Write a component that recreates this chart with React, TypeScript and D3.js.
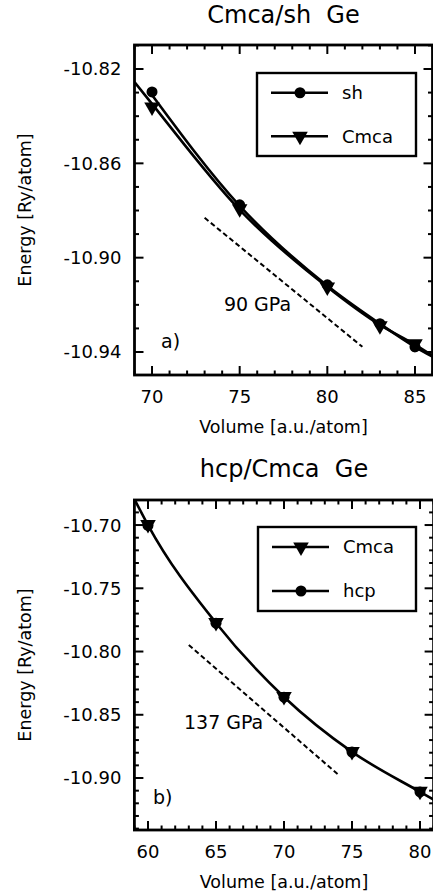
import React from "react";
import * as d3 from "d3";

// ---------- data ----------
// Panel a) Cmca/sh Ge
const shVolumesA = [70, 75, 80, 83, 85];
const shEnergiesA = [-10.8297, -10.8776, -10.9115, -10.928, -10.9378];
const cmcaVolumesA = [70, 75, 80, 83, 85];
const cmcaEnergiesA = [-10.8361, -10.8793, -10.9124, -10.9289, -10.9365];
const shFitVolumesA = [70, 75, 80, 83, 85, 86];
const shFitEnergiesA = [-10.831, -10.878, -10.9119, -10.928, -10.9378, -10.942];
const cmcaFitVolumesA = [69, 70, 75, 80, 83, 85, 86];
const cmcaFitEnergiesA = [-10.8255, -10.8348, -10.8797, -10.9124, -10.9285, -10.9369, -10.9416];
const pressureVolumesA = [73, 82];
const pressureEnergiesA = [-10.8831, -10.9378];
const xTicksA = [70, 75, 80, 85];
const yTicksA = [-10.94, -10.9, -10.86, -10.82];

// Panel b) hcp/Cmca Ge
const cmcaVolumesB = [60, 65, 70, 75, 80];
const cmcaEnergiesB = [-10.6995, -10.777, -10.8355, -10.879, -10.9105];
const hcpVolumesB = [60, 65, 70, 75, 80];
const hcpEnergiesB = [-10.7003, -10.7776, -10.8361, -10.8795, -10.911];
const fitVolumesB = [59, 60, 65, 70, 75, 80, 81];
const fitEnergiesB = [-10.6795, -10.7, -10.7774, -10.8359, -10.8793, -10.9109, -10.917];
const pressureVolumesB = [63, 74];
const pressureEnergiesB = [-10.7948, -10.8975];
const xTicksB = [60, 65, 70, 75, 80];
const yTicksB = [-10.9, -10.85, -10.8, -10.75, -10.7];

const FONT = "'DejaVu Sans', sans-serif";
const locale = d3.formatLocale({ decimal: ".", thousands: ",", grouping: [3], currency: ["", ""], minus: "-" });
const fmt = locale.format(".2f");

type Series = { v: number[]; e: number[] };
type Cfg = {
  title: string;
  titleY: number;
  top: number;
  bottom: number;
  left: number;
  right: number;
  xDomain: [number, number];
  yDomain: [number, number];
  xTicks: number[];
  yTicks: number[];
  yMinorStep: number;
  fits: Series[];
  markers: { s: Series; kind: "circle" | "tri" }[];
  pressure: Series;
  pressureLabel: string;
  pressureLabelPos: [number, number];
  panelLabel: string;
  panelLabelPos: [number, number];
  legend: { label: string; kind: "circle" | "tri" }[];
  legendBox: [number, number, number, number];
  id: string;
};

function Marker({ kind, cx, cy }: { kind: "circle" | "tri"; cx: number; cy: number }) {
  if (kind === "circle") return <circle cx={cx} cy={cy} r={5.5} fill="#000" />;
  const p = d3.symbol(d3.symbolTriangle, 105)() as string;
  return <path d={p} transform={`translate(${cx},${cy}) rotate(180)`} fill="#000" />;
}

function Panel({ cfg }: { cfg: Cfg }) {
  const x = d3.scaleLinear().domain(cfg.xDomain).range([cfg.left, cfg.right]);
  const y = d3.scaleLinear().domain(cfg.yDomain).range([cfg.bottom, cfg.top]);
  const line = d3
    .line<[number, number]>()
    .x((d) => x(d[0]))
    .y((d) => y(d[1]))
    .curve(d3.curveMonotoneX);
  const straight = d3
    .line<[number, number]>()
    .x((d) => x(d[0]))
    .y((d) => y(d[1]));
  const zip = (s: Series) => s.v.map((v, i) => [v, s.e[i]] as [number, number]);

  const xMinor = d3.range(Math.ceil(cfg.xDomain[0]), cfg.xDomain[1] + 1e-9, 1);
  const yMinor = d3
    .range(Math.ceil(cfg.yDomain[0] / cfg.yMinorStep - 1e-6), cfg.yDomain[1] / cfg.yMinorStep + 1e-6, 1)
    .map((k) => k * cfg.yMinorStep);
  const MAJ = 9;
  const MIN = 4.5;
  const isMajorX = (v: number) => cfg.xTicks.some((t) => Math.abs(t - v) < 1e-6);
  const isMajorY = (v: number) => cfg.yTicks.some((t) => Math.abs(t - v) < 1e-6);
  const midY = (cfg.top + cfg.bottom) / 2;
  const midX = (cfg.left + cfg.right) / 2;
  const [lx0, ly0, lx1, ly1] = cfg.legendBox;

  return (
    <g>
      <defs>
        <clipPath id={cfg.id}>
          <rect x={cfg.left} y={cfg.top} width={cfg.right - cfg.left} height={cfg.bottom - cfg.top} />
        </clipPath>
      </defs>
      <text
        x={midX}
        y={cfg.titleY}
        textAnchor="middle"
        fontSize={24}
        fontFamily={FONT}
        style={{ whiteSpace: "pre" }}
      >
        {cfg.title}
      </text>
      {/* ticks */}
      <g stroke="#000" strokeWidth={2}>
        {xMinor.map((v) => {
          const L = isMajorX(v) ? MAJ : MIN;
          return (
            <g key={"x" + v}>
              <line x1={x(v)} x2={x(v)} y1={cfg.bottom} y2={cfg.bottom - L} />
              <line x1={x(v)} x2={x(v)} y1={cfg.top} y2={cfg.top + L} />
            </g>
          );
        })}
        {yMinor.map((v) => {
          const L = isMajorY(v) ? MAJ : MIN;
          return (
            <g key={"y" + v}>
              <line x1={cfg.left} x2={cfg.left + L} y1={y(v)} y2={y(v)} />
              <line x1={cfg.right} x2={cfg.right - L} y1={y(v)} y2={y(v)} />
            </g>
          );
        })}
      </g>
      {cfg.xTicks.map((v) => (
        <text key={"xl" + v} x={x(v)} y={cfg.bottom + 28} textAnchor="middle" fontSize={18} fontFamily={FONT}>
          {v}
        </text>
      ))}
      {cfg.yTicks.map((v) => (
        <text
          key={"yl" + v}
          x={cfg.left - 13}
          y={y(v)}
          dy="0.36em"
          textAnchor="end"
          fontSize={18}
          fontFamily={FONT}
        >
          {fmt(v)}
        </text>
      ))}
      <text x={midX} y={cfg.bottom + 58} textAnchor="middle" fontSize={17.5} fontFamily={FONT}>
        Volume [a.u./atom]
      </text>
      <text
        transform={`translate(31,${midY}) rotate(-90)`}
        textAnchor="middle"
        fontSize={17.5}
        fontFamily={FONT}
      >
        Energy [Ry/atom]
      </text>
      {/* data */}
      <g clipPath={`url(#${cfg.id})`}>
        {cfg.fits.map((s, i) => (
          <path key={"f" + i} d={line(zip(s)) as string} fill="none" stroke="#000" strokeWidth={2.6} />
        ))}
        <path
          d={straight(zip(cfg.pressure)) as string}
          fill="none"
          stroke="#000"
          strokeWidth={2}
          strokeDasharray="5,3"
        />
        {cfg.markers.map((m, i) =>
          m.s.v.map((v, j) => <Marker key={`m${i}-${j}`} kind={m.kind} cx={x(v)} cy={y(m.s.e[j])} />)
        )}
      </g>
      <text
        x={x(d3.mean(cfg.pressure.v) as number) + cfg.pressureLabelPos[0]}
        y={y(d3.mean(cfg.pressure.e) as number) + cfg.pressureLabelPos[1]}
        textAnchor="middle"
        fontSize={19}
        fontFamily={FONT}
      >
        {cfg.pressureLabel}
      </text>
      <text x={cfg.panelLabelPos[0]} y={cfg.panelLabelPos[1]} fontSize={19} fontFamily={FONT}>
        {cfg.panelLabel}
      </text>
      {/* legend */}
      <rect x={lx0} y={ly0} width={lx1 - lx0} height={ly1 - ly0} fill="#fff" stroke="#000" strokeWidth={2.4} />
      {cfg.legend.map((l, i) => {
        const ly = ly0 + ((i + 0.5) * (ly1 - ly0)) / cfg.legend.length + (i === 0 ? -1 : 1) * 1;
        return (
          <g key={"lg" + i}>
            <line x1={lx0 + 14} x2={lx0 + 71} y1={ly} y2={ly} stroke="#000" strokeWidth={2.4} />
            <Marker kind={l.kind} cx={lx0 + 43} cy={ly} />
            <text x={lx0 + 85} y={ly} dy="0.36em" fontSize={18} fontFamily={FONT}>
              {l.label}
            </text>
          </g>
        );
      })}
      <rect
        x={cfg.left}
        y={cfg.top}
        width={cfg.right - cfg.left}
        height={cfg.bottom - cfg.top}
        fill="none"
        stroke="#000"
        strokeWidth={2.8}
      />
    </g>
  );
}

const panelA: Cfg = {
  id: "clipA",
  title: "Cmca/sh  Ge",
  titleY: 23,
  top: 45,
  bottom: 375,
  left: 134.5,
  right: 432.5,
  xDomain: [69, 86],
  yDomain: [-10.94975, -10.80982],
  xTicks: xTicksA,
  yTicks: yTicksA,
  yMinorStep: 0.01,
  fits: [
    { v: shFitVolumesA, e: shFitEnergiesA },
    { v: cmcaFitVolumesA, e: cmcaFitEnergiesA },
  ],
  markers: [
    { s: { v: shVolumesA, e: shEnergiesA }, kind: "circle" },
    { s: { v: cmcaVolumesA, e: cmcaEnergiesA }, kind: "tri" },
  ],
  pressure: { v: pressureVolumesA, e: pressureEnergiesA },
  pressureLabel: "90 GPa",
  pressureLabelPos: [-26, 29],
  panelLabel: "a)",
  panelLabelPos: [161, 348],
  legend: [
    { label: "sh", kind: "circle" },
    { label: "Cmca", kind: "tri" },
  ],
  legendBox: [257, 73, 416, 156],
};

const panelB: Cfg = {
  id: "clipB",
  title: "hcp/Cmca  Ge",
  titleY: 477,
  top: 500,
  bottom: 830,
  left: 134.4,
  right: 433.6,
  xDomain: [59, 81],
  yDomain: [-10.9411, -10.6802],
  xTicks: xTicksB,
  yTicks: yTicksB,
  yMinorStep: 0.01,
  fits: [{ v: fitVolumesB, e: fitEnergiesB }],
  markers: [
    { s: { v: hcpVolumesB, e: hcpEnergiesB }, kind: "circle" },
    { s: { v: cmcaVolumesB, e: cmcaEnergiesB }, kind: "tri" },
  ],
  pressure: { v: pressureVolumesB, e: pressureEnergiesB },
  pressureLabel: "137 GPa",
  pressureLabelPos: [-40, 19],
  panelLabel: "b)",
  panelLabelPos: [153, 804],
  legend: [
    { label: "Cmca", kind: "tri" },
    { label: "hcp", kind: "circle" },
  ],
  legendBox: [258, 527, 416, 611],
};

export default function App() {
  return (
    <svg
      width={433}
      height={894}
      viewBox="0 0 433 894"
      style={{ position: "absolute", left: 0, top: 0, background: "#fff" }}
    >
      <rect x={0} y={0} width={433} height={894} fill="#fff" />
      <Panel cfg={panelA} />
      <Panel cfg={panelB} />
    </svg>
  );
}
